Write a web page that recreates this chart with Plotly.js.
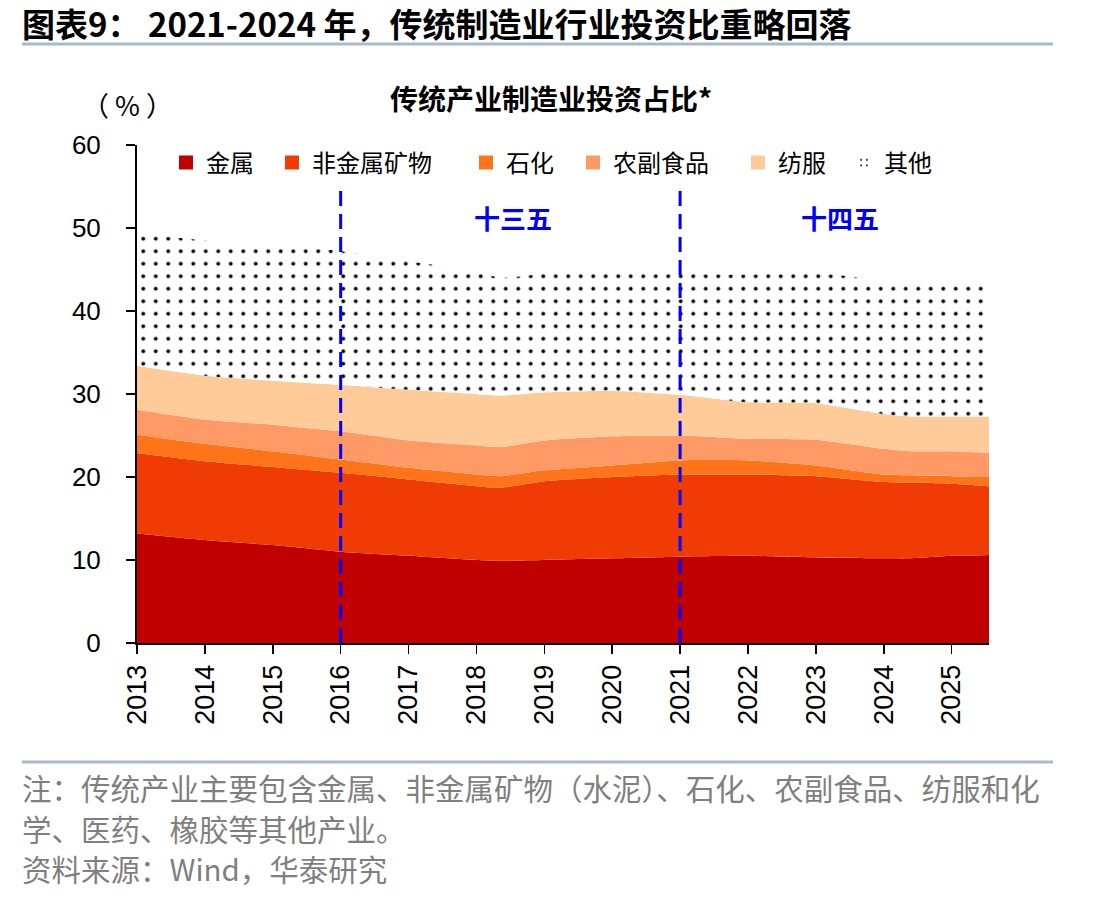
<!DOCTYPE html>
<html>
<head>
<meta charset="utf-8">
<script src="https://cdn.plot.ly/plotly-3.0.1.min.js"></script>
<style>html,body{margin:0;padding:0;background:#fff;}#chart{width:1112px;height:900px;}</style>
</head>
<body>
<div id="chart"></div>
<script>
// ---- data ----
const years      = [2013, 2014, 2015, 2016, 2017, 2018, 2018.35, 2019, 2020, 2021, 2022, 2023, 2024, 2024.4, 2025, 2025.55];
const metals     = [13.2, 12.4, 11.8, 11.0, 10.5, 10.0, 9.9, 10.0, 10.2, 10.4, 10.5, 10.3, 10.2, 10.2, 10.5, 10.6];
const nonMetal   = [9.7, 9.5, 9.4, 9.5, 9.2, 8.9, 8.8, 9.5, 9.8, 9.9, 9.8, 9.8, 9.2, 9.1, 8.7, 8.3];
const petrochem  = [2.2, 2.1, 1.9, 1.6, 1.4, 1.4, 1.4, 1.3, 1.4, 1.7, 1.7, 1.3, 0.9, 0.9, 0.9, 1.1];
const agriFood   = [3.0, 2.9, 3.2, 3.4, 3.3, 3.5, 3.5, 3.6, 3.5, 3.0, 2.6, 3.1, 3.1, 2.9, 3.0, 2.9];
const textile    = [5.3, 5.3, 5.3, 5.6, 6.1, 6.2, 6.2, 5.8, 5.5, 4.9, 4.4, 4.4, 4.2, 4.2, 4.2, 4.4];
const others     = [15.9, 16.3, 16.4, 16.1, 15.5, 14.8, 14.2, 14.3, 14.3, 14.6, 15.4, 15.7, 16.0, 15.9, 15.8, 16.0];

const seriesNames = ['金属', '非金属矿物', '石化', '农副食品', '纺服', '其他'];
const tickYears   = [2013, 2014, 2015, 2016, 2017, 2018, 2019, 2020, 2021, 2022, 2023, 2024, 2025];
const tickLabels  = ['2013', '2014', '2015', '2016', '2017', '2018', '2019', '2020', '2021', '2022', '2023', '2024', '2025'];
const planYears   = [2016, 2021];
const planLabels  = ['十三五', '十四五'];

// ---- styling ----
const colors = ['#C00000', '#F03B05', '#FF7418', '#FF9966', '#FFCC99', '#FFFFFF'];
const seriesValues = [metals, nonMetal, petrochem, agriFood, textile, others];
const dotPattern = {shape: '.', bgcolor: '#FFFFFF', fgcolor: '#000000', size: 12.5, solidity: 0.075};

const plotL = 137, plotR = 989, plotT = 145, plotB = 643;
const W = 1112, H = 900;
const px = v => (v - plotL) / (plotR - plotL);
const py = v => (plotB - v) / (plotB - plotT);

const traces = [];
seriesValues.forEach((vals, i) => {
  const t = {
    type: 'scatter', x: years, y: vals, stackgroup: 'one', mode: 'lines',
    line: {width: 0, shape: 'spline', smoothing: 0.5}, fillcolor: colors[i],
    name: seriesNames[i], showlegend: false, hoverinfo: 'skip'
  };
  if (i === 5) t.fillpattern = dotPattern;
  traces.push(t);
});

// legend entries (one legend per entry so each sits where the reference puts it)
const legendLeft = [182, 288, 482, 589, 754, 860];
const legendNames = ['legend', 'legend2', 'legend3', 'legend4', 'legend5', 'legend6'];
seriesNames.forEach((n, i) => {
  const m = {color: colors[i], line: {color: colors[i], width: 2}};
  if (i === 5) {
    m.pattern = {shape: '.', bgcolor: '#FFFFFF', fgcolor: '#000000', size: 7, solidity: 0.1};
    m.line = {color: '#FFFFFF', width: 0};
  }
  traces.push({type: 'bar', x: [null], y: [null], name: n, marker: m, legend: legendNames[i], showlegend: true, hoverinfo: 'skip'});
});

const noteFont = {family: 'Noto Sans CJK SC, sans-serif', size: 29.5, color: '#7F7F7F'};

const layout = {
  width: W, height: H,
  margin: {l: plotL, r: W - plotR, t: plotT, b: H - plotB, autoexpand: false},
  paper_bgcolor: '#FFFFFF', plot_bgcolor: '#FFFFFF',
  font: {family: 'Liberation Sans, Arial, Noto Sans CJK SC, sans-serif', color: '#000000'},
  title: {
    text: '传统产业制造业投资占比*', xref: 'paper', x: px(551), xanchor: 'center',
    yref: 'container', y: 1 - 100 / H, yanchor: 'middle',
    font: {family: 'Noto Sans CJK SC, sans-serif', size: 28, weight: 'bold', color: '#000000'}
  },
  xaxis: {
    range: [2013, 2025.55], tickvals: tickYears, ticktext: tickLabels, tickangle: -90,
    ticks: 'outside', ticklen: 9, tickwidth: 1.5, tickcolor: '#000000',
    showline: true, linecolor: '#000000', linewidth: 2, showgrid: false, zeroline: false,
    tickfont: {family: 'Liberation Sans, Arial, sans-serif', size: 27, color: '#000000'}
  },
  yaxis: {
    range: [0, 60], dtick: 10, tick0: 0,
    ticks: 'outside', ticklen: 9, tickwidth: 1.5, tickcolor: '#000000',
    showline: true, linecolor: '#000000', linewidth: 2, showgrid: false, zeroline: false,
    ticklabelstandoff: 20,
    tickfont: {family: 'Liberation Sans, Arial, sans-serif', size: 26, color: '#000000'}
  },
  showlegend: true,
  shapes: [
    {type: 'line', xref: 'paper', yref: 'paper', x0: px(22), x1: px(1053), y0: py(44), y1: py(44), line: {color: '#A7B9CF', width: 3}},
    {type: 'line', xref: 'paper', yref: 'paper', x0: px(22), x1: px(1053), y0: py(762), y1: py(762), line: {color: '#A7B9CF', width: 3}}
  ],
  annotations: [
    {text: '图表9： 2021-2024 年，传统制造业行业投资比重略回落', xref: 'paper', yref: 'paper', x: px(20), y: py(23), xanchor: 'left', yanchor: 'middle', showarrow: false,
     font: {family: 'Noto Sans CJK SC, sans-serif', size: 33, weight: 'bold', color: '#000000'}},
    {text: '（ % ）', xref: 'paper', yref: 'paper', x: px(127), y: py(105), xanchor: 'center', yanchor: 'middle', showarrow: false,
     font: {family: 'Noto Sans CJK SC, sans-serif', size: 27, color: '#000000'}},
    {text: '注：传统产业主要包含金属、非金属矿物（水泥）、石化、农副食品、纺服和化', xref: 'paper', yref: 'paper', x: px(20), y: py(787), xanchor: 'left', yanchor: 'middle', showarrow: false, font: noteFont},
    {text: '学、医药、橡胶等其他产业。', xref: 'paper', yref: 'paper', x: px(20), y: py(828), xanchor: 'left', yanchor: 'middle', showarrow: false, font: noteFont},
    {text: '资料来源：Wind，华泰研究', xref: 'paper', yref: 'paper', x: px(20), y: py(868), xanchor: 'left', yanchor: 'middle', showarrow: false, font: noteFont}
  ]
};

planYears.forEach((yr) => {
  layout.shapes.push({type: 'line', xref: 'x', yref: 'y', x0: yr, x1: yr, y0: 0, y1: 54.5,
    line: {color: '#0000FF', width: 3, dash: '15px,8px'}});
});
const planLabelX = [2018.54, 2023.35];
planLabels.forEach((t, i) => {
  layout.annotations.push({text: t, xref: 'x', yref: 'y', x: planLabelX[i], y: 51.3, showarrow: false,
    xanchor: 'center', yanchor: 'middle',
    font: {family: 'Noto Sans CJK SC, sans-serif', size: 26, weight: 'bold', color: '#0000FF'}});
});

legendNames.forEach((ln, i) => {
  layout[ln] = {
    x: px(legendLeft[i] - 16), y: py(163), xanchor: 'left', yanchor: 'middle',
    bgcolor: 'rgba(0,0,0,0)', borderwidth: 0, orientation: 'h',
    font: {family: 'Noto Sans CJK SC, sans-serif', size: 24, color: '#000000'}
  };
});

Plotly.newPlot('chart', traces, layout, {displayModeBar: false, staticPlot: true});
</script>
</body>
</html>
